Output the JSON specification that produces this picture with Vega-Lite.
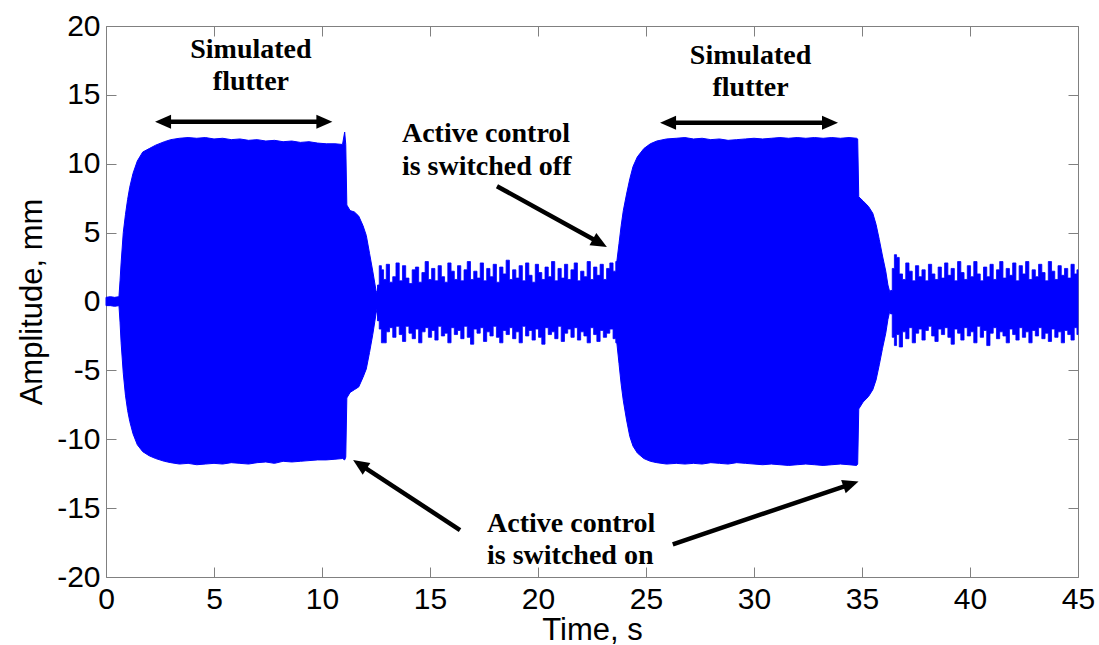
{
  "$schema": "https://vega.github.io/schema/vega-lite/v6.json",
  "width": 972,
  "height": 551,
  "autosize": {"type": "none"},
  "padding": {"left": 106, "top": 26, "right": 21, "bottom": 68},
  "background": "white",
  "config": {
    "view": {"stroke": null},
    "axis": {
      "domainColor": "#808080", "tickColor": "#808080", "grid": false,
      "labelFont": "Liberation Sans", "titleFont": "Liberation Sans",
      "labelColor": "black", "titleColor": "black",
      "labelFontSize": 30, "titleFontSize": 31, "titleFontWeight": "normal",
      "domainWidth": 1, "tickWidth": 1
    }
  },
  "datasets": {
    "sig": [
      {"t":0.0,"hi":0.3,"lo":-0.3},{"t":0.2,"hi":0.35,"lo":-0.3},{"t":0.4,"hi":0.3,"lo":-0.35},{"t":0.6,"hi":0.35,"lo":-0.3},
      {"t":0.65,"hi":1.5,"lo":-1.5},{"t":0.7,"hi":2.8,"lo":-3.0},{"t":0.8,"hi":5.0,"lo":-5.2},{"t":0.9,"hi":6.3,"lo":-6.8},
      {"t":1.0,"hi":7.4,"lo":-7.9},{"t":1.1,"hi":8.3,"lo":-8.7},{"t":1.25,"hi":9.3,"lo":-9.6},{"t":1.45,"hi":10.2,"lo":-10.4},
      {"t":1.7,"hi":10.85,"lo":-10.9},{"t":2.0,"hi":11.1,"lo":-11.2},{"t":2.3,"hi":11.35,"lo":-11.4},{"t":2.7,"hi":11.6,"lo":-11.6},
      {"t":3.0,"hi":11.75,"lo":-11.7},{"t":3.4,"hi":11.85,"lo":-11.8},{"t":3.8,"hi":11.9,"lo":-11.75},{"t":4.2,"hi":11.85,"lo":-11.85},
      {"t":4.6,"hi":11.9,"lo":-11.8},{"t":5.0,"hi":11.8,"lo":-11.75},{"t":5.4,"hi":11.85,"lo":-11.8},{"t":5.8,"hi":11.75,"lo":-11.7},
      {"t":6.2,"hi":11.8,"lo":-11.75},{"t":6.6,"hi":11.7,"lo":-11.8},{"t":7.0,"hi":11.75,"lo":-11.7},{"t":7.4,"hi":11.65,"lo":-11.65},
      {"t":7.8,"hi":11.7,"lo":-11.75},{"t":8.2,"hi":11.6,"lo":-11.6},{"t":8.6,"hi":11.65,"lo":-11.65},{"t":9.0,"hi":11.55,"lo":-11.6},
      {"t":9.4,"hi":11.6,"lo":-11.55},{"t":9.8,"hi":11.5,"lo":-11.5},{"t":10.2,"hi":11.45,"lo":-11.5},{"t":10.6,"hi":11.45,"lo":-11.45},
      {"t":10.95,"hi":11.4,"lo":-11.4},{"t":11.05,"hi":12.3,"lo":-11.5},{"t":11.1,"hi":11.4,"lo":-11.3},{"t":11.15,"hi":7.0,"lo":-7.0},
      {"t":11.3,"hi":6.6,"lo":-6.6},{"t":11.5,"hi":6.5,"lo":-6.4},{"t":11.7,"hi":6.2,"lo":-6.2},{"t":11.9,"hi":5.5,"lo":-5.5},
      {"t":12.05,"hi":4.8,"lo":-4.9},{"t":12.2,"hi":3.5,"lo":-3.7},{"t":12.35,"hi":2.2,"lo":-2.4},{"t":12.5,"hi":0.8,"lo":-0.9},
      {"t":12.55,"hi":0.6,"lo":-0.5},
      {"t":12.6,"hi":1.2,"lo":-1.4},{"t":12.7,"hi":2.6,"lo":-2.0},{"t":12.8,"hi":2.3,"lo":-3.0},{"t":12.9,"hi":1.6,"lo":-3.0},
      {"t":13.05,"hi":2.7,"lo":-2.2},{"t":13.2,"hi":1.4,"lo":-1.9},{"t":13.35,"hi":1.8,"lo":-2.6},{"t":13.5,"hi":2.8,"lo":-1.8},
      {"t":13.65,"hi":1.5,"lo":-2.4},{"t":13.8,"hi":2.6,"lo":-2.9},{"t":13.95,"hi":1.7,"lo":-1.8},{"t":14.1,"hi":1.3,"lo":-2.3},
      {"t":14.25,"hi":2.3,"lo":-2.7},{"t":14.4,"hi":2.5,"lo":-2.0},{"t":14.55,"hi":1.4,"lo":-3.0},{"t":14.7,"hi":2.1,"lo":-2.2},
      {"t":14.85,"hi":2.9,"lo":-1.9},{"t":15.0,"hi":1.6,"lo":-2.6},{"t":15.15,"hi":2.4,"lo":-2.1},{"t":15.3,"hi":1.5,"lo":-2.8},
      {"t":15.45,"hi":2.6,"lo":-1.8},{"t":15.6,"hi":1.8,"lo":-2.5},{"t":15.75,"hi":1.4,"lo":-2.3},{"t":15.9,"hi":2.8,"lo":-3.0},
      {"t":16.05,"hi":2.2,"lo":-1.9},{"t":16.2,"hi":1.6,"lo":-2.4},{"t":16.35,"hi":2.6,"lo":-2.1},{"t":16.5,"hi":1.5,"lo":-2.7},
      {"t":16.65,"hi":2.3,"lo":-1.8},{"t":16.8,"hi":2.9,"lo":-2.6},{"t":16.95,"hi":1.6,"lo":-3.1},{"t":17.1,"hi":2.2,"lo":-2.0},
      {"t":17.25,"hi":1.7,"lo":-2.3},{"t":17.4,"hi":2.8,"lo":-1.9},{"t":17.55,"hi":1.5,"lo":-2.9},{"t":17.7,"hi":2.4,"lo":-2.2},
      {"t":17.85,"hi":1.8,"lo":-2.5},{"t":18.0,"hi":2.7,"lo":-1.8},{"t":18.15,"hi":1.4,"lo":-2.6},{"t":18.3,"hi":2.5,"lo":-3.0},
      {"t":18.45,"hi":2.0,"lo":-2.1},{"t":18.6,"hi":3.0,"lo":-2.4},{"t":18.75,"hi":1.6,"lo":-1.9},{"t":18.9,"hi":2.3,"lo":-2.7},
      {"t":19.05,"hi":1.7,"lo":-2.2},{"t":19.2,"hi":2.6,"lo":-3.0},{"t":19.35,"hi":1.5,"lo":-1.8},{"t":19.5,"hi":2.8,"lo":-2.5},
      {"t":19.65,"hi":1.9,"lo":-2.1},{"t":19.8,"hi":1.4,"lo":-2.8},{"t":19.95,"hi":2.7,"lo":-2.0},{"t":20.1,"hi":2.1,"lo":-2.6},
      {"t":20.25,"hi":1.6,"lo":-3.1},{"t":20.4,"hi":2.5,"lo":-1.9},{"t":20.55,"hi":1.8,"lo":-2.4},{"t":20.7,"hi":2.9,"lo":-2.2},
      {"t":20.85,"hi":1.5,"lo":-2.7},{"t":21.0,"hi":2.4,"lo":-1.8},{"t":21.15,"hi":1.7,"lo":-2.9},{"t":21.3,"hi":2.7,"lo":-2.3},
      {"t":21.45,"hi":1.6,"lo":-2.0},{"t":21.6,"hi":2.3,"lo":-2.6},{"t":21.75,"hi":2.8,"lo":-1.9},{"t":21.9,"hi":1.5,"lo":-2.8},
      {"t":22.05,"hi":2.2,"lo":-2.2},{"t":22.2,"hi":1.8,"lo":-2.5},{"t":22.35,"hi":2.9,"lo":-3.0},{"t":22.5,"hi":1.6,"lo":-1.9},
      {"t":22.65,"hi":2.5,"lo":-2.4},{"t":22.8,"hi":1.9,"lo":-2.9},{"t":22.95,"hi":2.7,"lo":-2.1},{"t":23.1,"hi":1.6,"lo":-2.6},
      {"t":23.25,"hi":2.4,"lo":-2.3},{"t":23.4,"hi":2.8,"lo":-2.0},{"t":23.55,"hi":2.2,"lo":-2.7},
      {"t":23.65,"hi":2.9,"lo":-3.0},{"t":23.75,"hi":4.2,"lo":-4.5},{"t":23.85,"hi":5.5,"lo":-6.0},{"t":23.95,"hi":6.6,"lo":-7.2},
      {"t":24.1,"hi":7.8,"lo":-8.6},{"t":24.25,"hi":8.9,"lo":-9.8},{"t":24.4,"hi":9.8,"lo":-10.5},{"t":24.6,"hi":10.5,"lo":-11.0},
      {"t":24.9,"hi":11.1,"lo":-11.4},{"t":25.2,"hi":11.45,"lo":-11.6},{"t":25.5,"hi":11.65,"lo":-11.7},{"t":25.95,"hi":11.8,"lo":-11.8},
      {"t":26.4,"hi":11.85,"lo":-11.75},{"t":26.8,"hi":11.9,"lo":-11.8},{"t":27.2,"hi":11.8,"lo":-11.75},{"t":27.6,"hi":11.85,"lo":-11.8},
      {"t":28.0,"hi":11.75,"lo":-11.7},{"t":28.4,"hi":11.8,"lo":-11.75},{"t":28.8,"hi":11.7,"lo":-11.8},{"t":29.2,"hi":11.75,"lo":-11.7},
      {"t":29.6,"hi":11.8,"lo":-11.75},{"t":30.0,"hi":11.85,"lo":-11.8},{"t":30.4,"hi":11.8,"lo":-11.85},{"t":30.8,"hi":11.85,"lo":-11.8},
      {"t":31.2,"hi":11.9,"lo":-11.85},{"t":31.6,"hi":11.85,"lo":-11.9},{"t":32.0,"hi":11.9,"lo":-11.85},{"t":32.4,"hi":11.85,"lo":-11.8},
      {"t":32.8,"hi":11.9,"lo":-11.85},{"t":33.2,"hi":11.85,"lo":-11.9},{"t":33.6,"hi":11.9,"lo":-11.85},{"t":34.0,"hi":11.85,"lo":-11.8},
      {"t":34.4,"hi":11.9,"lo":-11.85},{"t":34.75,"hi":11.85,"lo":-11.9},{"t":34.8,"hi":11.8,"lo":-11.8},{"t":34.85,"hi":7.6,"lo":-7.8},
      {"t":35.05,"hi":7.3,"lo":-7.3},{"t":35.3,"hi":6.9,"lo":-6.9},{"t":35.5,"hi":6.4,"lo":-6.4},{"t":35.65,"hi":5.6,"lo":-5.7},
      {"t":35.8,"hi":4.5,"lo":-4.6},{"t":35.95,"hi":3.3,"lo":-3.4},{"t":36.1,"hi":2.2,"lo":-2.3},{"t":36.2,"hi":1.2,"lo":-1.3},
      {"t":36.3,"hi":0.6,"lo":-0.6},
      {"t":36.35,"hi":0.8,"lo":-0.9},{"t":36.45,"hi":2.4,"lo":-2.6},{"t":36.55,"hi":3.4,"lo":-3.2},{"t":36.65,"hi":3.2,"lo":-2.4},
      {"t":36.8,"hi":2.0,"lo":-3.3},{"t":36.95,"hi":1.6,"lo":-2.2},{"t":37.1,"hi":2.8,"lo":-2.7},{"t":37.25,"hi":2.2,"lo":-1.9},
      {"t":37.4,"hi":1.5,"lo":-3.0},{"t":37.55,"hi":2.6,"lo":-2.3},{"t":37.7,"hi":1.8,"lo":-2.0},{"t":37.85,"hi":2.3,"lo":-2.8},
      {"t":38.0,"hi":1.5,"lo":-2.1},{"t":38.15,"hi":2.7,"lo":-1.8},{"t":38.3,"hi":2.0,"lo":-2.5},{"t":38.45,"hi":1.6,"lo":-2.9},
      {"t":38.6,"hi":2.5,"lo":-2.0},{"t":38.75,"hi":1.7,"lo":-2.4},{"t":38.9,"hi":2.8,"lo":-1.9},{"t":39.05,"hi":1.9,"lo":-2.6},
      {"t":39.2,"hi":2.4,"lo":-3.1},{"t":39.35,"hi":1.5,"lo":-2.0},{"t":39.5,"hi":2.9,"lo":-2.3},{"t":39.65,"hi":2.1,"lo":-2.8},
      {"t":39.8,"hi":1.6,"lo":-1.9},{"t":39.95,"hi":2.6,"lo":-2.5},{"t":40.1,"hi":1.8,"lo":-2.2},{"t":40.25,"hi":2.9,"lo":-3.0},
      {"t":40.4,"hi":2.0,"lo":-1.8},{"t":40.55,"hi":1.5,"lo":-2.6},{"t":40.7,"hi":2.5,"lo":-2.1},{"t":40.85,"hi":1.8,"lo":-3.2},
      {"t":41.0,"hi":2.7,"lo":-2.3},{"t":41.15,"hi":1.6,"lo":-1.9},{"t":41.3,"hi":2.3,"lo":-2.7},{"t":41.45,"hi":2.9,"lo":-2.2},
      {"t":41.6,"hi":1.7,"lo":-2.5},{"t":41.75,"hi":2.4,"lo":-3.0},{"t":41.9,"hi":1.9,"lo":-2.0},{"t":42.05,"hi":2.8,"lo":-2.4},
      {"t":42.2,"hi":1.5,"lo":-2.8},{"t":42.35,"hi":2.6,"lo":-1.9},{"t":42.5,"hi":2.0,"lo":-2.6},{"t":42.65,"hi":2.9,"lo":-2.2},
      {"t":42.8,"hi":1.6,"lo":-3.0},{"t":42.95,"hi":2.3,"lo":-2.1},{"t":43.1,"hi":1.8,"lo":-2.5},{"t":43.25,"hi":2.7,"lo":-1.9},
      {"t":43.4,"hi":2.1,"lo":-2.7},{"t":43.55,"hi":1.5,"lo":-2.3},{"t":43.7,"hi":2.9,"lo":-2.9},{"t":43.85,"hi":2.2,"lo":-2.0},
      {"t":44.0,"hi":1.6,"lo":-2.6},{"t":44.15,"hi":2.6,"lo":-2.2},{"t":44.3,"hi":1.9,"lo":-3.0},{"t":44.45,"hi":2.4,"lo":-2.1},
      {"t":44.6,"hi":1.7,"lo":-2.4},{"t":44.75,"hi":2.7,"lo":-2.8},{"t":44.9,"hi":2.0,"lo":-1.9},{"t":45.0,"hi":2.3,"lo":-2.4}
    ],
    "arrows": [
      {"x1":2.64,"y1":13.05,"x2":10.11,"y2":13.05},
      {"x1":26.02,"y1":12.98,"x2":33.52,"y2":12.98},
      {"x1":18.10,"y1":8.37,"x2":22.87,"y2":4.24},
      {"x1":16.39,"y1":-16.59,"x2":11.75,"y2":-11.83},
      {"x1":26.24,"y1":-17.63,"x2":34.49,"y2":-13.25}
    ],
    "heads": [
      {"t":2.27,"y":13.05,"ang":270},{"t":10.48,"y":13.05,"ang":90},
      {"t":25.65,"y":12.98,"ang":270},{"t":33.89,"y":12.98,"ang":90},
      {"t":23.19,"y":3.96,"ang":119},{"t":11.44,"y":-11.51,"ang":303},{"t":34.84,"y":-13.06,"ang":71}
    ],
    "notesC": [
      {"t":6.71,"y":17.68,"txt":"Simulated"},{"t":6.71,"y":15.35,"txt":"flutter"},
      {"t":29.84,"y":17.24,"txt":"Simulated"},{"t":29.84,"y":14.92,"txt":"flutter"}
    ],
    "notesL": [
      {"t":13.70,"y":11.58,"txt":"Active control"},{"t":13.70,"y":9.18,"txt":"is switched off"},
      {"t":17.64,"y":-16.73,"txt":"Active control"},{"t":17.64,"y":-19.06,"txt":"is switched on"}
    ]
  },
  "layer": [
    {
      "layer": [
        {
          "data": {"name": "sig"},
          "transform": [{"filter": "datum.t <= 12.6"}],
          "mark": {"type": "area", "color": "#0000ff", "stroke": "#0000ff", "strokeWidth": 1, "interpolate": "linear"},
          "encoding": {
            "x": {"field": "t", "type": "quantitative", "scale": {"domain": [0, 45], "nice": false, "zero": false},
              "axis": {"orient": "bottom", "values": [0,5,10,15,20,25,30,35,40,45], "tickSize": -10, "labelPadding": 17, "labelFlush": false, "labelOverlap": false, "title": "Time, s", "titlePadding": 1}},
            "y": {"field": "hi", "type": "quantitative", "scale": {"domain": [-20, 20], "nice": false, "zero": false},
              "axis": {"orient": "left", "values": [-20,-15,-10,-5,0,5,10,15,20], "tickSize": -10, "labelPadding": 16, "labelFlush": false, "labelOverlap": false, "labelExpr": "'' + datum.value", "title": "Amplitude, mm", "titlePadding": 8}},
            "y2": {"field": "lo"}
          }
        },
        {
          "data": {"name": "sig"},
          "transform": [{"filter": "datum.t >= 23.6 && datum.t <= 36.35"}],
          "mark": {"type": "area", "color": "#0000ff", "stroke": "#0000ff", "strokeWidth": 1, "interpolate": "linear"},
          "encoding": {
            "x": {"field": "t", "type": "quantitative"},
            "y": {"field": "hi", "type": "quantitative"},
            "y2": {"field": "lo"}
          }
        },
        {
          "data": {"name": "sig"},
          "transform": [{"filter": "(datum.t >= 12.55 && datum.t <= 23.65) || datum.t >= 36.3"}],
          "mark": {"type": "area", "color": "#0000ff", "stroke": "#0000ff", "strokeWidth": 0.8, "interpolate": "step"},
          "encoding": {
            "x": {"field": "t", "type": "quantitative"},
            "y": {"field": "hi", "type": "quantitative"},
            "y2": {"field": "lo"},
            "detail": {"value": "n"}
          }
        },
        {
          "data": {"name": "arrows"},
          "mark": {"type": "rule", "color": "black", "strokeWidth": 4.5, "strokeCap": "butt"},
          "encoding": {
            "x": {"field": "x1", "type": "quantitative"},
            "y": {"field": "y1", "type": "quantitative"},
            "x2": {"field": "x2"},
            "y2": {"field": "y2"}
          }
        },
        {
          "data": {"name": "heads"},
          "mark": {"type": "point", "shape": "M0,0L0.7,1.6L-0.7,1.6Z", "filled": true, "color": "black", "opacity": 1, "size": 400, "strokeWidth": 0},
          "encoding": {
            "x": {"field": "t", "type": "quantitative"},
            "y": {"field": "y", "type": "quantitative"},
            "angle": {"field": "ang", "type": "quantitative", "scale": null}
          }
        },
        {
          "data": {"name": "notesC"},
          "mark": {"type": "text", "font": "Liberation Serif", "fontWeight": "bold", "fontSize": 28, "color": "black", "align": "center", "baseline": "alphabetic"},
          "encoding": {
            "x": {"field": "t", "type": "quantitative"},
            "y": {"field": "y", "type": "quantitative"},
            "text": {"field": "txt"}
          }
        },
        {
          "data": {"name": "notesL"},
          "mark": {"type": "text", "font": "Liberation Serif", "fontWeight": "bold", "fontSize": 28, "color": "black", "align": "left", "baseline": "alphabetic"},
          "encoding": {
            "x": {"field": "t", "type": "quantitative"},
            "y": {"field": "y", "type": "quantitative"},
            "text": {"field": "txt"}
          }
        }
      ]
    },
    {
      "data": {"values": [{"t": 0, "v": 0}]},
      "mark": {"type": "point", "opacity": 0},
      "encoding": {
        "x": {"field": "t", "type": "quantitative", "scale": {"domain": [0, 45], "nice": false, "zero": false},
          "axis": {"orient": "top", "values": [0,5,10,15,20,25,30,35,40,45], "tickSize": -10, "labels": false, "title": null}},
        "y": {"field": "v", "type": "quantitative", "scale": {"domain": [-20, 20], "nice": false, "zero": false},
          "axis": {"orient": "right", "values": [-20,-15,-10,-5,0,5,10,15,20], "tickSize": -10, "labels": false, "title": null}}
      }
    }
  ],
  "resolve": {"scale": {"x": "independent", "y": "independent"}}
}
